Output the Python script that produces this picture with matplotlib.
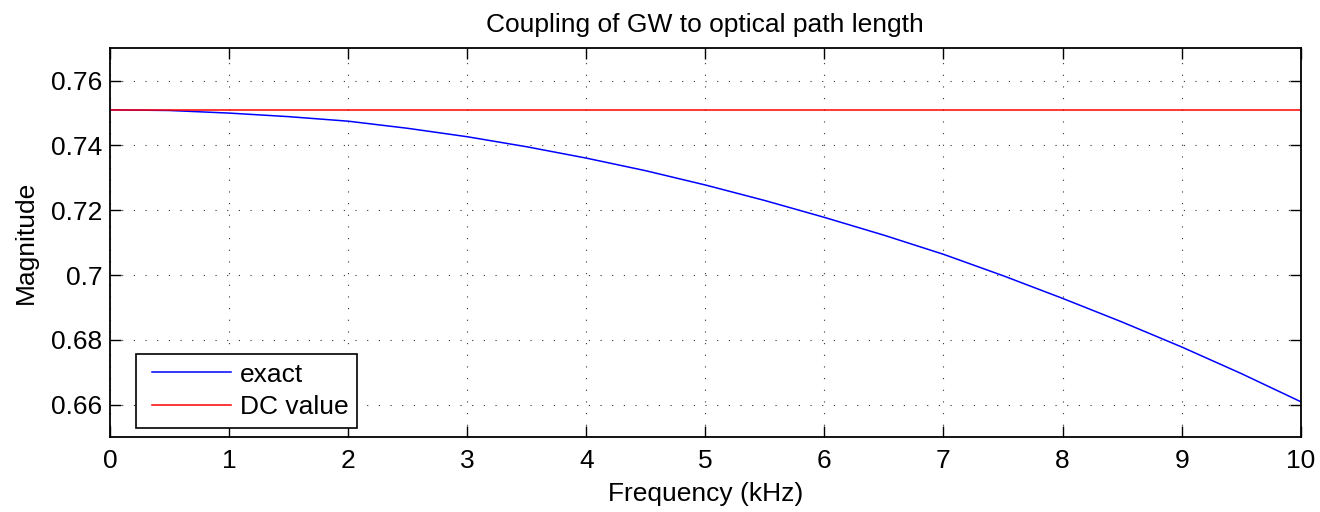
import matplotlib
matplotlib.use("Agg")
import matplotlib.pyplot as plt
from matplotlib.legend_handler import HandlerLine2D

# Data (frequency in kHz, magnitude)
freq_khz = [0, 0.5, 1, 1.5, 2, 2.5, 3, 3.5, 4, 4.5, 5, 5.5, 6, 6.5, 7, 7.5, 8, 8.5, 9, 9.5, 10]
exact = [0.7510, 0.7508, 0.7500, 0.7489, 0.7475, 0.7453, 0.7427, 0.7396, 0.7361, 0.7322,
         0.7278, 0.7230, 0.7178, 0.7123, 0.7064, 0.6998, 0.6928, 0.6855, 0.6778, 0.6696, 0.6609]
dc_value = 0.7510
xticks = [0, 1, 2, 3, 4, 5, 6, 7, 8, 9, 10]
yticks = [0.66, 0.68, 0.70, 0.72, 0.74, 0.76]
ytick_labels = ["0.66", "0.68", "0.7", "0.72", "0.74", "0.76"]

plt.rcParams['font.family'] = ['Liberation Sans', 'DejaVu Sans']

fig = plt.figure(figsize=(13.2, 5.12), dpi=100)
ax = fig.add_axes([110/1320, 1 - 437/512, (1300.7-110)/1320, (437-48.3)/512])

l1, = ax.plot(freq_khz, exact, color='#0000ff', lw=1.1, label='exact')
l2, = ax.plot([freq_khz[0], freq_khz[-1]], [dc_value, dc_value], color='#ff0000', lw=1.1, label='DC value')

ax.set_xlim(0, 10)
ax.set_ylim(0.65, 0.77)
ax.set_xticks(xticks)
ax.set_yticks(yticks)
ax.set_yticklabels(ytick_labels)

ax.grid(True, color='0.2', linestyle=(0, (1, 9.5)), lw=0.8)
ax.tick_params(direction='in', length=8, width=1.0, top=True, right=True,
               labelsize=19)
ax.tick_params(axis='x', pad=9)
ax.tick_params(axis='y', pad=5.5)
for s in ax.spines.values():
    s.set_linewidth(1.3)

ax.set_xlabel('Frequency (kHz)', fontsize=19, labelpad=6)
ax.set_ylabel('Magnitude', fontsize=19, labelpad=9.5)
ax.set_title('Coupling of GW to optical path length', fontsize=19, pad=12)

hmap = {l1: HandlerLine2D(numpoints=2, marker_pad=0.28),
        l2: HandlerLine2D(numpoints=2, marker_pad=0.28)}
leg = ax.legend(handles=[l1, l2], handler_map=hmap,
                loc='lower left', bbox_to_anchor=(0.0216, 0.024), borderaxespad=0,
                fontsize=19, handlelength=3.55, handletextpad=0.065, labelspacing=0.32,
                borderpad=0.33, fancybox=False, framealpha=1, edgecolor='black')
leg.get_frame().set_linewidth(1.2)

fig.savefig('out.png', dpi=100)
